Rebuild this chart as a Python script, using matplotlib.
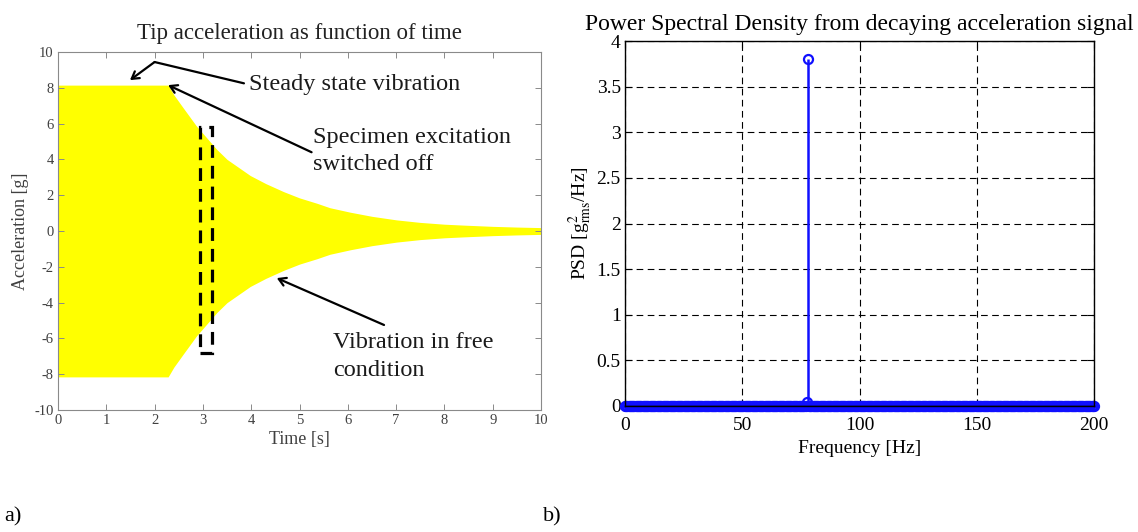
import numpy as np
import matplotlib
matplotlib.use("Agg")
import matplotlib.pyplot as plt
from matplotlib.patches import Rectangle

plt.rcParams['font.family'] = ['Liberation Serif', 'DejaVu Serif']
plt.rcParams['mathtext.fontset'] = 'stix'
plt.rcParams['axes.unicode_minus'] = False

# ---- Data: panel a) envelope of tip acceleration (read from picture) ----
time_s = [0.0, 2.28, 2.4, 2.6, 2.87, 3.0, 3.29, 3.5, 3.98, 4.3, 4.67, 5.0,
          5.36, 5.63, 6.05, 6.5, 7.01, 7.5, 8.0, 8.39, 9.0, 9.5, 10.0]
amplitude_g = [8.15, 8.15, 7.6, 6.85, 5.85, 5.45, 4.55, 4.0, 3.1, 2.65, 2.2, 1.85,
               1.55, 1.3, 1.05, 0.82, 0.62, 0.48, 0.38, 0.33, 0.26, 0.22, 0.19]
x_ticks_a = list(range(0, 11))
y_ticks_a = list(range(-10, 11, 2))

# ---- Data: panel b) PSD ----
freq_hz = np.arange(0, 200.5, 0.5)
psd = np.zeros_like(freq_hz)
peak_freq = 78.0
peak_psd = 3.8
side_freq = 77.5
side_psd = 0.04
psd[np.argmin(np.abs(freq_hz - peak_freq))] = peak_psd
psd[np.argmin(np.abs(freq_hz - side_freq))] = side_psd
x_ticks_b = [0, 50, 100, 150, 200]
y_ticks_b = [0, 0.5, 1, 1.5, 2, 2.5, 3, 3.5, 4]
y_ticklabels_b = ['0', '0.5', '1', '1.5', '2', '2.5', '3', '3.5', '4']

W, H = 1138, 532
fig = plt.figure(figsize=(W / 100, H / 100), dpi=100)

def px_axes(l, t, r, b):
    return fig.add_axes([l / W, 1 - b / H, (r - l) / W, (b - t) / H])

# ---------------- Panel a ----------------
axa = px_axes(58, 52, 541, 410)
t = np.array(time_s)
a = np.array(amplitude_g)
axa.fill_between(t, -a, a, color='#ffff00', lw=0)
axa.set_xlim(0, 10)
axa.set_ylim(-10, 10)
axa.set_xticks(x_ticks_a)
axa.set_yticks(y_ticks_a)
gray = '#404040'
for s in axa.spines.values():
    s.set_color('#8a8a8a')
    s.set_linewidth(0.8)
axa.tick_params(direction='in', top=True, right=True, length=4, width=0.7,
                color='#8a8a8a', labelsize=10.5, labelcolor=gray, pad=3)
axa.set_title('Tip acceleration as function of time', fontsize=16.5, color='#222222', pad=9)
axa.set_xlabel('Time [s]', fontsize=13, color=gray, labelpad=3)
axa.set_ylabel('Acceleration [g]', fontsize=13, color=gray, labelpad=4)

txtc = '#1a1a1a'
fs_ann = 17.5
# Steady state vibration (bent arrow)
axa.annotate('', xy=(2.0, 9.44), xytext=(3.85, 8.25),
             arrowprops=dict(arrowstyle='-', color='black', lw=1.6, shrinkA=0, shrinkB=0))
axa.annotate('', xy=(1.49, 8.43), xytext=(2.0, 9.44),
             arrowprops=dict(arrowstyle='->,head_length=0.5,head_width=0.3', color='black',
                             lw=1.6, shrinkA=0, shrinkB=0))
axa.text(3.95, 8.2, 'Steady state vibration', fontsize=fs_ann, color=txtc,
         ha='left', va='center')
# Specimen excitation switched off
axa.annotate('', xy=(2.28, 8.15), xytext=(5.25, 4.4),
             arrowprops=dict(arrowstyle='->,head_length=0.5,head_width=0.3', color='black',
                             lw=1.6, shrinkA=0, shrinkB=0))
axa.text(5.28, 5.2, 'Specimen excitation', fontsize=fs_ann, color=txtc, ha='left', va='center')
axa.text(5.28, 3.7, 'switched off', fontsize=fs_ann, color=txtc, ha='left', va='center')
# Vibration in free condition
axa.annotate('', xy=(4.53, -2.63), xytext=(6.75, -5.25),
             arrowprops=dict(arrowstyle='->,head_length=0.5,head_width=0.3', color='black',
                             lw=1.6, shrinkA=0, shrinkB=0))
axa.text(5.7, -6.25, 'Vibration in free', fontsize=fs_ann, color=txtc, ha='left', va='center')
axa.text(5.7, -7.8, 'condition', fontsize=fs_ann, color=txtc, ha='left', va='center')
# Dashed rectangle
axa.add_patch(Rectangle((2.93, -6.8), 0.26, 12.6, fill=False, ec='black', lw=2.3,
                        ls=(0, (4, 2.5))))

# ---------------- Panel b ----------------
axb = px_axes(625, 41, 1094, 406)
ml, sl, bl = axb.stem(freq_hz, psd, linefmt='-', markerfmt='o', basefmt='k-')
blue = '#1010ff'
ml.set_color(blue)
ml.set_markerfacecolor('none')
ml.set_markeredgewidth(1.6)
ml.set_markersize(6.5)
ml.set_clip_on(False)
sl.set_color(blue)
sl.set_linewidth(1.8)
bl.set_linewidth(1.0)
bl.set_color('black')
axb.set_xlim(0, 200)
axb.set_ylim(0, 4)
axb.set_xticks(x_ticks_b)
axb.set_yticks(y_ticks_b)
axb.set_yticklabels(y_ticklabels_b)
axb.grid(True, color='black', ls=(0, (6, 4)), lw=0.8)
axb.set_axisbelow(True)
for s in axb.spines.values():
    s.set_color('black')
    s.set_linewidth(1.0)
axb.tick_params(direction='in', top=True, right=True, length=5, width=0.8,
                labelsize=14, pad=3)
axb.tick_params(axis='x', pad=8)
axb.set_title('Power Spectral Density from decaying acceleration signal', fontsize=17, pad=8)
axb.set_xlabel('Frequency [Hz]', fontsize=14, labelpad=4)
axb.set_ylabel(r'PSD [g$^{2}_{\mathrm{rms}}$/Hz]', fontsize=14, labelpad=2)

fig.text(4 / W, 1 - 517 / H, 'a)', fontsize=16, ha='left', va='center')
fig.text(543 / W, 1 - 517 / H, 'b)', fontsize=16, ha='left', va='center')

fig.savefig('out.png', dpi=100)
